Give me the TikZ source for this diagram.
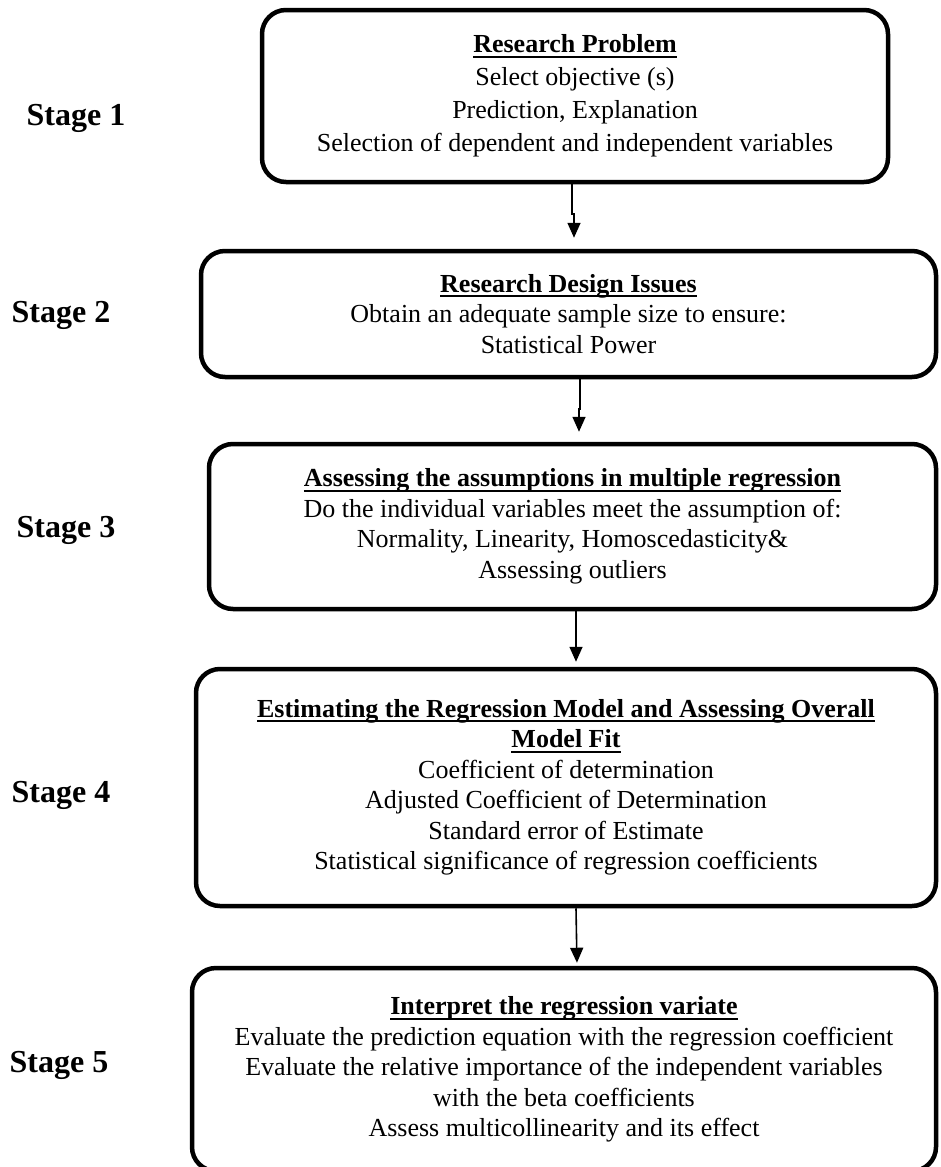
\documentclass[tikz,border=0pt]{standalone}
\usepackage{fontspec}
\setmainfont{Liberation Serif}
\usetikzlibrary{arrows.meta}
\newcommand{\headline}[1]{\setbox0\hbox{\textbf{#1}}\rlap{\rule[-5pt]{\wd0}{2pt}}\box0}

\begin{document}
\begin{tikzpicture}[x=1pt, y=-1pt,
  stagebox/.style={draw=black, line width=4.5pt, rounded corners=24pt, align=center, inner sep=0pt, font=\fontsize{26}{30.5}\selectfont},
  stagelabel/.style={font=\fontsize{32}{38}\selectfont\bfseries},
  flow/.style={line width=1.6pt, -{Triangle[length=\l, width=\w]}}]
\def\l{15pt}
\def\w{13pt}
\useasboundingbox (0,0) rectangle (941,1167);
%\draw[red] (0,0) grid[step=100] (941,1167);

\node [stagebox, minimum width=626pt, minimum height=172pt, font=\fontsize{26}{33}\selectfont, name=b1] at (575,96)
  {\headline{Research Problem}\\ Select objective (s)\\ Prediction, Explanation\\ Selection of dependent and independent variables};
\node [stagebox, minimum width=735pt, minimum height=126pt, name=b2] at (568.5,314)
  {\headline{Research Design Issues}\\ Obtain an adequate sample size to ensure:\\ Statistical Power};
\node [stagebox, minimum width=727pt, minimum height=165pt, name=b3] at (572.5,526.5)
  {\headline{Assessing the assumptions in multiple regression}\\ Do the individual variables meet the assumption of:\\ Normality, Linearity, Homoscedasticity\&\\ Assessing outliers};
\node [stagebox, minimum width=740pt, minimum height=237pt, name=b4] at (566,787.5)
  {\headline{Estimating the Regression Model and Assessing Overall}\\ \headline{Model Fit}\\ Coefficient of determination\\ Adjusted Coefficient of Determination\\ Standard error of Estimate\\ Statistical significance of regression coefficients};
\node [stagebox, minimum width=744pt, minimum height=203pt, name=b5] at (564,1069.5)
  {\headline{Interpret the regression variate}\\ Evaluate the prediction equation with the regression coefficient\\ Evaluate the relative importance of the independent variables\\ with the beta coefficients\\ Assess multicollinearity and its effect};

\node [stagelabel, name=s1] at (76,118) {Stage 1};
\node [stagelabel, name=s2] at (61,315) {Stage 2};
\node [stagelabel, name=s3] at (66,530) {Stage 3};
\node [stagelabel, name=s4] at (61,795) {Stage 4};
\node [stagelabel, name=s5] at (59,1065) {Stage 5};

\draw [flow, shorten >=11pt] ([xshift=-3pt]b1.south) -- ++(0,30) -| ([xshift=5.5pt]b2.north);
\draw [flow, shorten >=10pt] ([xshift=11.5pt]b2.south) -- ++(0,30) -| ([xshift=6.5pt]b3.north);
\draw [flow, shorten >=5pt] ([xshift=3.5pt]b3.south) -- ([xshift=10pt]b4.north);
\draw [flow, shorten >=3pt] ([xshift=10pt]b4.south) -- ([xshift=13pt]b5.north);
\end{tikzpicture}
\end{document}
